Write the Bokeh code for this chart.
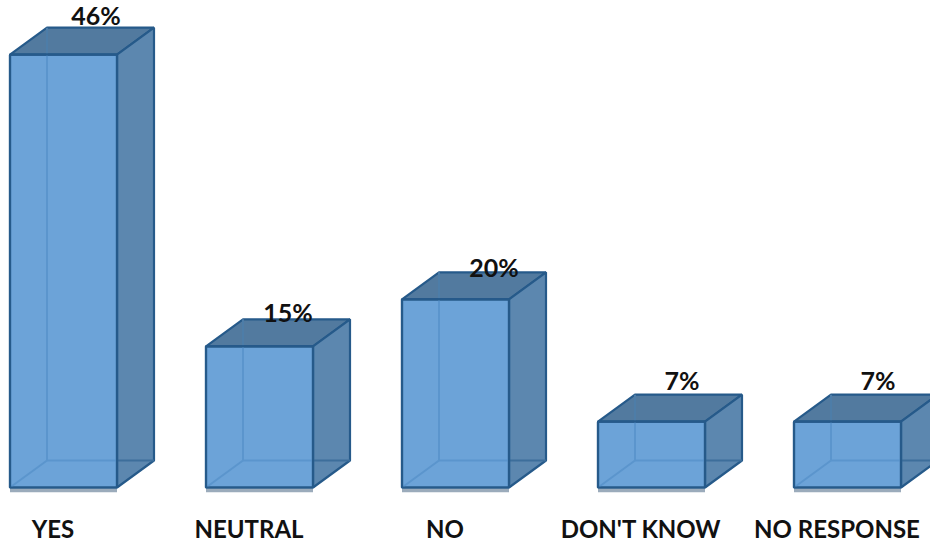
from bokeh.core.properties import value
from bokeh.embed import file_html
from bokeh.models import ColumnDataSource
from bokeh.plotting import figure
from bokeh.resources import INLINE

# Survey answers and their shares in percent
categories = ["YES", "NEUTRAL", "NO", "DON'T KNOW", "NO RESPONSE"]
shares = [46, 15, 20, 7, 7]

WIDTH, HEIGHT = 930, 546
SLOT_PX = 196.0      # horizontal distance between neighbouring columns
UNIT_PX = 9.41       # pixels per percentage point
LEFT_PX, BASE_PX = 9.5, 487.0

# Column box proportions in data units
BAR_W = 107 / SLOT_PX
DX = 37 / SLOT_PX
DY = 27 / UNIT_PX

# Hand placement of the percentage labels, in pixels from each column
LABEL_DX = [86, 82, 92, 84, 84]
LABEL_DY = [13, 7, 5, 15, 15]

FONT = value("Lato")

p = figure(
    width=WIDTH, height=HEIGHT,
    x_range=(-LEFT_PX / SLOT_PX, (WIDTH - LEFT_PX) / SLOT_PX),
    y_range=(-(HEIGHT - BASE_PX) / UNIT_PX, BASE_PX / UNIT_PX),
    output_backend="svg", toolbar_location=None, min_border=0,
    outline_line_color=None, background_fill_color="white",
    border_fill_color="white",
)
p.axis.visible = False
p.grid.visible = False

xs = list(range(len(shares)))

# Faces of each box, from the back of the scene to the front
top_x = [[x, x + DX, x + BAR_W + DX, x + BAR_W] for x in xs]
top_y = [[v, v + DY, v + DY, v] for v in shares]
side_x = [[x + BAR_W, x + BAR_W + DX, x + BAR_W + DX, x + BAR_W] for x in xs]
side_y = [[0, DY, v + DY, v] for v in shares]
front_x = [[x, x + BAR_W, x + BAR_W, x] for x in xs]
front_y = [[0, 0, v, v] for v in shares]

EDGE = "#265a8a"
INNER = "#5b95cd"

# Thin grey ground shadow beneath each box
p.segment(xs, -0.3, [x + BAR_W for x in xs], -0.3,
          line_color="#9babbb", line_width=4)

p.patches(top_x, top_y, fill_color="#527a9f", line_color=EDGE, line_width=2.2)
p.patches(side_x, side_y, fill_color="#5c87af", line_color=EDGE, line_width=2.2)

# Rear edges that show through the translucent side face
p.segment([x + BAR_W for x in xs], DY, [x + BAR_W + DX for x in xs], DY,
          line_color="#3d6e9b", line_width=2)

# Rear vertical edge above the front face, seen through the lid
p.segment([x + DX for x in xs], shares, [x + DX for x in xs],
          [v + DY for v in shares], line_color="#4d7da8", line_width=2)

p.patches(front_x, front_y, fill_color="#6ca3d8", line_color=EDGE, line_width=2.2)

# Rear edges seen through the front face
p.segment([x + DX for x in xs], DY, [x + DX for x in xs], shares,
          line_color=INNER, line_width=2)
p.segment([x + DX for x in xs], DY, [x + BAR_W for x in xs], DY,
          line_color=INNER, line_width=2)
p.segment(xs, 0, [x + DX for x in xs], DY, line_color=INNER, line_width=2)

# Front outline redrawn over the rear edges
p.patches(front_x, front_y, fill_color=None, line_color=EDGE, line_width=2.2)

labels = ColumnDataSource(dict(
    x=[x + dx / SLOT_PX for x, dx in zip(xs, LABEL_DX)],
    y=[v + DY + dy / UNIT_PX for v, dy in zip(shares, LABEL_DY)],
    text=[f"{v}%" for v in shares],
))
p.text("x", "y", "text", source=labels, text_font=FONT, text_font_style="bold",
       text_font_size="25px", text_color="#111111", text_align="center",
       text_baseline="middle")

names = ColumnDataSource(dict(
    x=[x + 43 / SLOT_PX for x in xs],
    y=[-(528 - BASE_PX) / UNIT_PX] * len(xs),
    text=categories,
))
p.text("x", "y", "text", source=names, text_font=FONT, text_font_style="bold",
       text_font_size="24px", text_color="#111111", text_align="center",
       text_baseline="middle")

open("out.html", "w").write(file_html(p, INLINE))
